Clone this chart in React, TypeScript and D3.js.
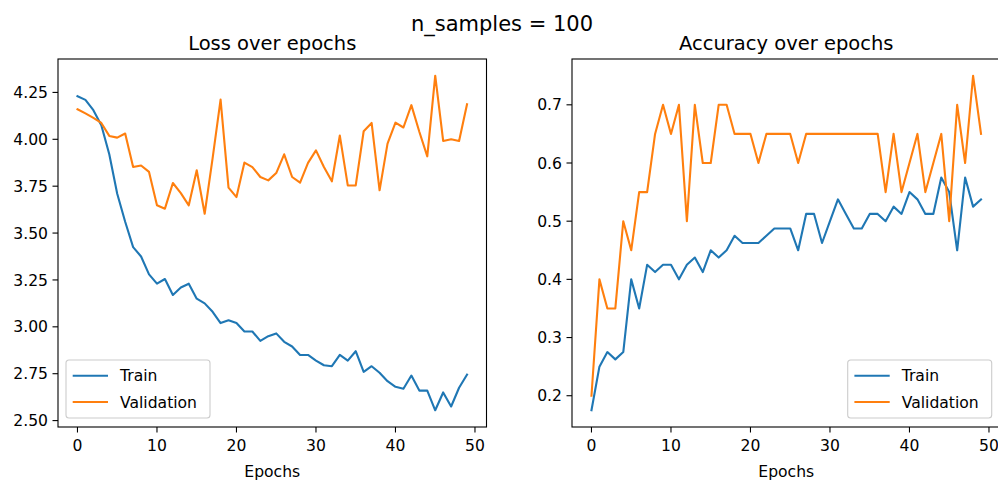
import React from "react";
import * as d3 from "d3";

// Per-epoch metrics, 50 epochs
const epochs = d3.range(50);

const trainLoss = [
  4.23, 4.21, 4.155, 4.075, 3.92, 3.71, 3.56, 3.425, 3.375, 3.28,
  3.23, 3.255, 3.17, 3.21, 3.23, 3.15, 3.125, 3.08, 3.02, 3.035,
  3.02, 2.975, 2.975, 2.925, 2.95, 2.965, 2.92, 2.895, 2.85, 2.85,
  2.82, 2.795, 2.79, 2.85, 2.82, 2.87, 2.76, 2.79, 2.755, 2.71,
  2.68, 2.67, 2.74, 2.66, 2.66, 2.555, 2.65, 2.575, 2.675, 2.745,
];
const valLoss = [
  4.16, 4.138, 4.114, 4.087, 4.018, 4.009, 4.031, 3.852, 3.86, 3.826,
  3.648, 3.63, 3.767, 3.713, 3.648, 3.835, 3.603, 3.9, 4.212, 3.742,
  3.692, 3.876, 3.852, 3.799, 3.781, 3.82, 3.92, 3.799, 3.769, 3.874,
  3.941, 3.852, 3.776, 4.02, 3.754, 3.754, 4.043, 4.087, 3.728, 3.977,
  4.089, 4.063, 4.182, 4.04, 3.909, 4.339, 3.991, 4.0, 3.991, 4.187,
];
const trainAcc = [
  0.175, 0.25, 0.275, 0.2625, 0.275, 0.4, 0.35, 0.425, 0.4125, 0.425,
  0.425, 0.4, 0.425, 0.4375, 0.4125, 0.45, 0.4375, 0.45, 0.475, 0.4625,
  0.4625, 0.4625, 0.475, 0.4875, 0.4875, 0.4875, 0.45, 0.5125, 0.5125, 0.4625,
  0.5, 0.5375, 0.5125, 0.4875, 0.4875, 0.5125, 0.5125, 0.5, 0.525, 0.5125,
  0.55, 0.5375, 0.5125, 0.5125, 0.575, 0.55, 0.45, 0.575, 0.525, 0.5375,
];
const valAcc = [
  0.2, 0.4, 0.35, 0.35, 0.5, 0.45, 0.55, 0.55, 0.65, 0.7,
  0.65, 0.7, 0.5, 0.7, 0.6, 0.6, 0.7, 0.7, 0.65, 0.65,
  0.65, 0.6, 0.65, 0.65, 0.65, 0.65, 0.6, 0.65, 0.65, 0.65,
  0.65, 0.65, 0.65, 0.65, 0.65, 0.65, 0.65, 0.55, 0.65, 0.55,
  0.6, 0.65, 0.55, 0.6, 0.65, 0.5, 0.7, 0.6, 0.75, 0.65,
];

const xTicks = [0, 10, 20, 30, 40, 50];
const lossTicks = [2.5, 2.75, 3.0, 3.25, 3.5, 3.75, 4.0, 4.25];
const accTicks = [0.2, 0.3, 0.4, 0.5, 0.6, 0.7];
const seriesNames = ["Train", "Validation"];

const W = 998;
const H = 483;
const FONT = "DejaVu Sans, sans-serif";
const C_TRAIN = "#1f77b4";
const C_VAL = "#ff7f0e";
const TOP = 59;
const BOTTOM = 427;
const PANEL_W = 428.5;
const TICK = 5.5;
const TICK_FS = 15.6;

function padded(values: number[]): [number, number] {
  const [lo, hi] = d3.extent(values) as [number, number];
  const m = (hi - lo) * 0.05;
  return [lo - m, hi + m];
}

type PanelProps = {
  left: number;
  title: string;
  train: number[];
  val: number[];
  yTicks: number[];
  yFmt: (v: number) => string;
  legendRight: boolean;
};

function Panel({ left, title, train, val, yTicks, yFmt, legendRight }: PanelProps) {
  const right = left + PANEL_W;
  const x = d3.scaleLinear().domain(padded(epochs)).range([left, right]);
  const y = d3.scaleLinear().domain(padded([...train, ...val])).range([BOTTOM, TOP]);
  const line = d3
    .line<number>()
    .x((_, i) => x(epochs[i]))
    .y((d) => y(d));

  const legW = 144;
  const legH = 58;
  const legX = legendRight ? right - 8.8 - legW : left + 8;
  const legY = BOTTOM - 9 - legH;

  return (
    <g>
      <text x={(left + right) / 2} y={50} textAnchor="middle" fontSize={19.5} fontFamily={FONT} fill="#000">
        {title}
      </text>
      <path d={line(train) ?? ""} fill="none" stroke={C_TRAIN} strokeWidth={2.1} strokeLinejoin="round" strokeLinecap="square" />
      <path d={line(val) ?? ""} fill="none" stroke={C_VAL} strokeWidth={2.1} strokeLinejoin="round" strokeLinecap="square" />
      <rect x={left} y={TOP} width={PANEL_W} height={BOTTOM - TOP} fill="none" stroke="#000" strokeWidth={1.1} />
      {xTicks.map((t) => (
        <g key={"x" + t}>
          <line x1={x(t)} x2={x(t)} y1={BOTTOM} y2={BOTTOM + TICK} stroke="#000" strokeWidth={1.1} />
          <text x={x(t)} y={451} textAnchor="middle" fontSize={TICK_FS} fontFamily={FONT} fill="#000">
            {t}
          </text>
        </g>
      ))}
      {yTicks.map((t) => (
        <g key={"y" + t}>
          <line x1={left - TICK} x2={left} y1={y(t)} y2={y(t)} stroke="#000" strokeWidth={1.1} />
          <text x={left - TICK - 4.5} y={y(t)} dy="0.36em" textAnchor="end" fontSize={TICK_FS} fontFamily={FONT} fill="#000">
            {yFmt(t)}
          </text>
        </g>
      ))}
      <text x={(left + right) / 2} y={477} textAnchor="middle" fontSize={TICK_FS} fontFamily={FONT} fill="#000">
        Epochs
      </text>
      <g transform={`translate(${legX},${legY})`}>
        <rect x={0} y={0} width={legW} height={legH} rx={3} fill="#fff" fillOpacity={0.8} stroke="#cccccc" strokeWidth={1.1} />
        {seriesNames.map((name, i) => (
          <g key={name} transform={`translate(0,${15.8 + i * 26.2})`}>
            <line x1={6.7} x2={42} y1={0} y2={0} stroke={i === 0 ? C_TRAIN : C_VAL} strokeWidth={2.1} />
            <text x={54} y={0} dy="0.36em" fontSize={TICK_FS} fontFamily={FONT} fill="#000">
              {name}
            </text>
          </g>
        ))}
      </g>
    </g>
  );
}

export default function App() {
  return (
    <svg
      width={W}
      height={H}
      viewBox={`0 0 ${W} ${H}`}
      style={{ position: "absolute", left: 0, top: 0, background: "#fff" }}
    >
      <rect width={W} height={H} fill="#fff" />
      <text x={502} y={31} textAnchor="middle" fontSize={21} fontFamily={FONT} fill="#000">
        n_samples = 100
      </text>
      <Panel
        left={58}
        title="Loss over epochs"
        train={trainLoss}
        val={valLoss}
        yTicks={lossTicks}
        yFmt={d3.format(".2f")}
        legendRight={false}
      />
      <Panel
        left={572}
        title="Accuracy over epochs"
        train={trainAcc}
        val={valAcc}
        yTicks={accTicks}
        yFmt={d3.format(".1f")}
        legendRight={true}
      />
    </svg>
  );
}
